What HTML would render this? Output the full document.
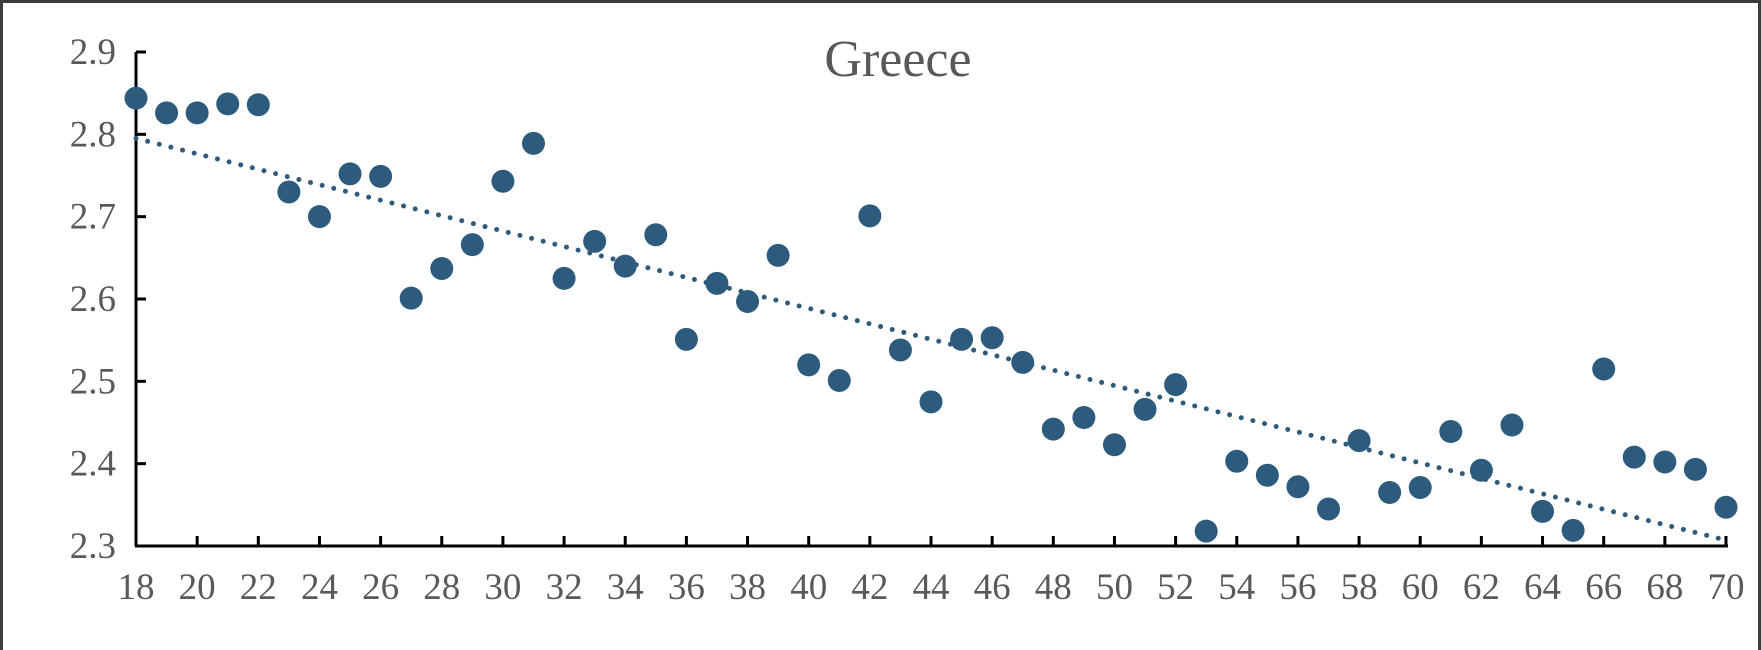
<!DOCTYPE html>
<html><head><meta charset="utf-8"><style>
html,body{margin:0;padding:0;background:#fff}
svg{display:block}
text{font-family:"Liberation Serif",serif;fill:#595959}
</style></head><body>
<svg id="chart" width="1761" height="650" viewBox="0 0 1761 650">
<rect x="0" y="0" width="1761" height="650" fill="#fff"/>
<path d="M1.5 650 V1.5 H1759.5 V650" fill="none" stroke="#3c3c3c" stroke-width="3"/>
<text x="898" y="76" font-size="52" text-anchor="middle">Greece</text>
<g id="axes"></g><g id="trend"></g><g id="points"></g>
</svg>
<script>
const ages = [18,19,20,21,22,23,24,25,26,27,28,29,30,31,32,33,34,35,36,37,38,39,40,41,42,43,44,45,46,47,48,49,50,51,52,53,54,55,56,57,58,59,60,61,62,63,64,65,66,67,68,69,70];
const values = [2.844,2.826,2.826,2.837,2.836,2.730,2.700,2.752,2.749,2.601,2.637,2.666,2.743,2.789,2.625,2.670,2.640,2.678,2.551,2.619,2.597,2.653,2.520,2.501,2.701,2.538,2.475,2.551,2.553,2.523,2.442,2.456,2.423,2.466,2.496,2.318,2.403,2.386,2.372,2.345,2.428,2.365,2.371,2.439,2.392,2.447,2.342,2.319,2.515,2.408,2.402,2.393,2.347];
const yTicks = [2.3,2.4,2.5,2.6,2.7,2.8,2.9];
const xTicks = [18,20,22,24,26,28,30,32,34,36,38,40,42,44,46,48,50,52,54,56,58,60,62,64,66,68,70];
const NS='http://www.w3.org/2000/svg';
const x0=136,x1=1726,y0=546,y1=52;
const X=v=>x0+(v-18)/(70-18)*(x1-x0);
const Y=v=>y0-(v-2.3)/(2.9-2.3)*(y0-y1);
function mk(t,a,p){const e=document.createElementNS(NS,t);for(const k in a)e.setAttribute(k,a[k]);p.appendChild(e);return e;}
const ax=document.getElementById('axes');
let e=mk('line',{x1:x0,y1:y1,x2:x0,y2:y0,stroke:'#000','stroke-width':3},ax);


e=mk('line',{x1:x0-1,y1:y0,x2:x1+2,y2:y0,stroke:'#000','stroke-width':3},ax);


yTicks.forEach(v=>{
  mk('line',{x1:x0,y1:Y(v),x2:x0+10,y2:Y(v),stroke:'#000','stroke-width':3},ax);
  const t=mk('text',{x:116,y:Y(v)+12,'font-size':37,'text-anchor':'end'},ax);t.textContent=v.toFixed(1);
  
  
});
xTicks.forEach(v=>{
  mk('line',{x1:X(v),y1:y0,x2:X(v),y2:y0-10,stroke:'#000','stroke-width':3},ax);
  const t=mk('text',{x:X(v),y:599,'font-size':37,'text-anchor':'middle'},ax);t.textContent=v;
  
  
});
const n=ages.length;let sx=0,sy=0,sxx=0,sxy=0;
for(let i=0;i<n;i++){sx+=ages[i];sy+=values[i];sxx+=ages[i]*ages[i];sxy+=ages[i]*values[i];}
const b=(n*sxy-sx*sy)/(n*sxx-sx*sx),a=(sy-b*sx)/n;
const tl=mk('line',{x1:X(18),y1:Y(a+b*18),x2:X(70),y2:Y(a+b*70),stroke:'#2e5b7a','stroke-width':5,'stroke-dasharray':'0 12','stroke-linecap':'round'},document.getElementById('trend'));


const pg=document.getElementById('points');
ages.forEach((g,i)=>{
  const c=mk('circle',{cx:X(g),cy:Y(values[i]),r:11.5,fill:'#2c5b7d'},pg);
  
  
});
</script>
</body></html>
